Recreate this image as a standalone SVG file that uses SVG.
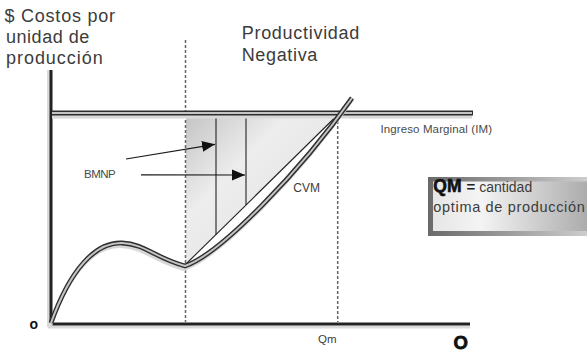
<svg xmlns="http://www.w3.org/2000/svg" width="587" height="353" viewBox="0 0 587 353">
<defs>
<style>
.t{font-family:"Liberation Sans",Arial,sans-serif;fill:#3c3c3c}
.big{font-size:18px}
.sm{font-size:11.5px;fill:#4a4a4a}
.dash{stroke:#666;stroke-width:1.5;stroke-dasharray:3 2;fill:none}
.shadow{stroke:#d8d8d8;fill:none;stroke-width:4}
.outer{stroke:#2e2e2e;fill:none;stroke-width:4.8}
.inner{stroke:#c4c4c4;fill:none;stroke-width:2}
.thin{stroke:#222;stroke-width:1.1;fill:none}
.arrow{stroke:#1a1a1a;stroke-width:1.2;fill:none;marker-end:url(#ah)}
</style>
<marker id="ah" markerUnits="userSpaceOnUse" markerWidth="14" markerHeight="12" refX="13" refY="5.5" orient="auto">
<path d="M0,0 L13,5.5 L0,11 z" fill="#111"/>
</marker>
<linearGradient id="shade" x1="185" y1="115" x2="300" y2="230" gradientUnits="userSpaceOnUse">
<stop offset="0" stop-color="#c4c4c4"/>
<stop offset="0.45" stop-color="#ededed"/>
<stop offset="1" stop-color="#e4e4e4"/>
</linearGradient>
<linearGradient id="boxOuter" x1="0" y1="0" x2="1" y2="0">
<stop offset="0" stop-color="#6a6a6a"/>
<stop offset="1" stop-color="#cfcfcf"/>
</linearGradient>
<linearGradient id="boxInner" x1="0" y1="0" x2="1" y2="0">
<stop offset="0" stop-color="#e6e6e6"/>
<stop offset="0.3" stop-color="#f4f4f4"/>
<stop offset="1" stop-color="#a8a8a8"/>
</linearGradient>
</defs>
<rect width="587" height="353" fill="#fff"/>

<g id="shaded-area">
<polygon points="186,115.5 337,115.5 186,264" fill="url(#shade)"/>
<line class="thin" x1="186" y1="264" x2="337" y2="115.5"/>
<line class="thin" x1="216" y1="115.5" x2="216" y2="234.5"/>
<line class="thin" x1="246" y1="115.5" x2="246" y2="205"/>
</g>

<g id="guides">
<line class="dash" x1="185.5" y1="40" x2="185.5" y2="322"/>
<line class="dash" x1="337.7" y1="116" x2="337.7" y2="322"/>
</g>

<g id="axes">
<line x1="48.5" y1="70" x2="48.5" y2="327" stroke="#dadada" stroke-width="3"/>
<line x1="48" y1="327" x2="470" y2="327" stroke="#dadada" stroke-width="3"/>
<line x1="51" y1="70" x2="51" y2="325" stroke="#222" stroke-width="3"/>
<line x1="50" y1="324" x2="470" y2="324" stroke="#222" stroke-width="3"/>
</g>

<g id="ingreso-marginal">
<line class="shadow" x1="52" y1="116.5" x2="472" y2="116.5"/>
<line class="outer" x1="52" y1="113" x2="473" y2="113"/>
<line class="inner" x1="52" y1="113" x2="472" y2="113"/>
<text class="t sm" x="380.5" y="132.5" textLength="111.5" lengthAdjust="spacing">Ingreso Marginal (IM)</text>
</g>

<g id="cvm-curve">
<path class="shadow" transform="translate(-1,3)" d="M51,323 C70,270 95,242 122,243 C145,244 155,258 185,266 C220,254 300,172 352,98"/>
<path class="outer" d="M51,323 C70,270 95,242 122,243 C145,244 155,258 185,266 C220,254 300,172 352,98"/>
<path class="inner" d="M51,323 C70,270 95,242 122,243 C145,244 155,258 185,266 C220,254 300,172 352,98"/>
<text class="t" x="293.3" y="192.3" font-size="12" fill="#4a4a4a" textLength="26.7" lengthAdjust="spacing">CVM</text>
</g>

<g id="y-label">
<text class="t big" x="4.5" y="21.7" textLength="110.5" lengthAdjust="spacing">$ Costos por</text>
<text class="t big" x="6" y="43" textLength="83.3" lengthAdjust="spacing">unidad de</text>
<text class="t big" x="6" y="64.3" textLength="96.7" lengthAdjust="spacing">producción</text>
</g>

<g id="title">
<text class="t big" x="241.7" y="39" textLength="117.6" lengthAdjust="spacing">Productividad</text>
<text class="t big" x="241.7" y="61" textLength="75.6" lengthAdjust="spacing">Negativa</text>
</g>

<g id="bmnp">
<text class="t sm" x="84" y="177.7" textLength="31.7" lengthAdjust="spacing">BMNP</text>
</g>

<g id="connectors">
<line class="arrow" x1="126" y1="159" x2="215" y2="144.3"/>
<line class="arrow" x1="141" y1="174.8" x2="245" y2="175"/>
</g>

<g id="qm-box">
<rect x="428" y="177" width="162" height="59" fill="url(#boxOuter)"/>
<rect x="433" y="181.5" width="160" height="49.5" fill="url(#boxInner)"/>
<text x="433.3" y="192.3" font-family="'Liberation Sans',Arial,sans-serif"><tspan font-weight="bold" font-size="17.5" fill="#111" stroke="#111" stroke-width="0.6">QM</tspan><tspan dx="5" font-weight="bold" font-size="15" fill="#222">=</tspan><tspan dx="4" font-size="14" fill="#3c3c3c">cantidad</tspan></text>
<text class="t" x="433.3" y="211.7" font-size="14.5" textLength="151.5" lengthAdjust="spacing">optima de producción</text>
</g>

<g id="axis-marks">
<text x="29.5" y="329.3" font-family="'Liberation Sans',Arial,sans-serif" font-weight="bold" font-size="14" fill="#111">o</text>
<text class="t" x="318" y="343" font-size="11.5" fill="#4a4a4a">Qm</text>
<text x="453.5" y="349.3" font-family="'Liberation Sans',Arial,sans-serif" font-weight="bold" font-size="18.5" fill="#111" stroke="#111" stroke-width="0.8">O</text>
</g>
</svg>
